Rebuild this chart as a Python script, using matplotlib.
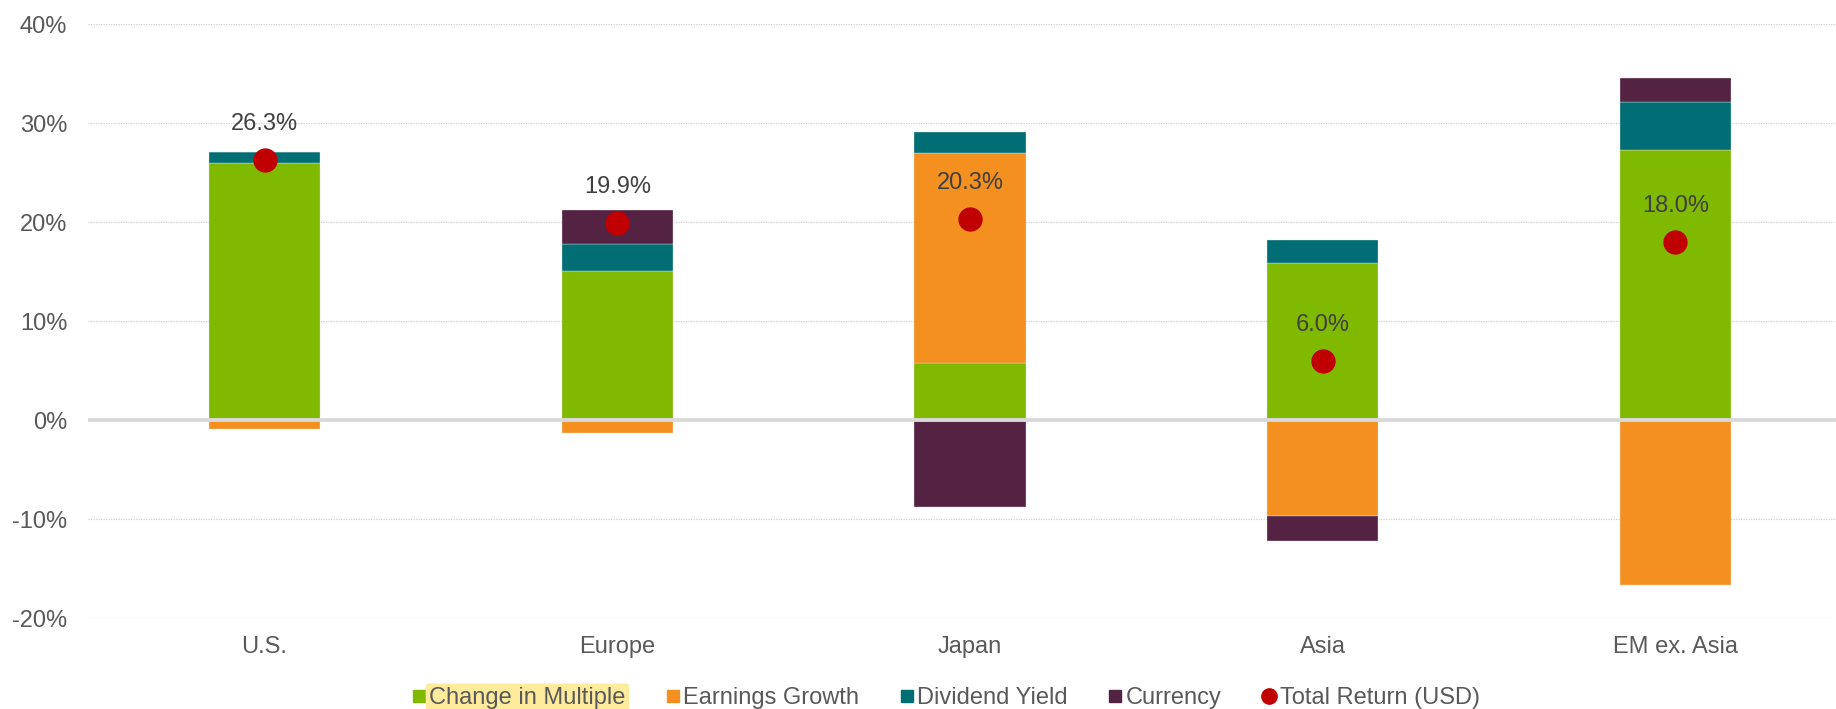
import numpy as np
import matplotlib.pyplot as plt
from matplotlib.lines import Line2D

plt.rcParams['font.family'] = ['Liberation Sans', 'DejaVu Sans']

regions = ["U.S.", "Europe", "Japan", "Asia", "EM ex. Asia"]
change_in_multiple = [26.0, 15.1, 5.8, 15.9, 27.3]
earnings_growth = [-0.9, -1.3, 21.2, -9.7, -16.6]
dividend_yield = [1.1, 2.7, 2.1, 2.3, 4.8]
currency = [0.0, 3.4, -8.8, -2.5, 2.5]
total_return = [26.3, 19.9, 20.3, 6.0, 18.0]

series = [
    ("Change in Multiple", change_in_multiple, "#80BA00"),
    ("Earnings Growth", earnings_growth, "#F39020"),
    ("Dividend Yield", dividend_yield, "#016E75"),
    ("Currency", currency, "#542242"),
]

fig = plt.figure(figsize=(18.36, 7.09), dpi=100)
ax = fig.add_axes([0.048, 0.128, 0.952, 0.838])

x = np.arange(len(regions))
pos_base = np.zeros(len(regions))
neg_base = np.zeros(len(regions))
for name, vals, color in series:
    vals = np.array(vals)
    bottom = np.where(vals >= 0, pos_base, neg_base)
    ax.bar(x, vals, width=0.315, bottom=bottom, color=color, edgecolor="#E8E8E8",
           linewidth=0.25, zorder=2)
    pos_base += np.where(vals >= 0, vals, 0)
    neg_base += np.where(vals < 0, vals, 0)

ax.axhline(0, color="#D9D9D9", linewidth=2.8, zorder=3)
ax.plot(x, total_return, linestyle="none", marker="o", markersize=16.5,
        color="#C00000", zorder=4)
for xi, v in zip(x, total_return):
    ax.annotate(f"{v:.1f}%", (xi, v), xytext=(0, 18), textcoords="offset points",
                ha="center", va="bottom", fontsize=17, color="#404040", zorder=5)

ax.set_xlim(-0.5, 4.455)
ax.set_ylim(-20, 40)
ax.set_yticks(np.arange(-20, 41, 10))
ax.set_yticklabels([f"{t}%" for t in range(-20, 41, 10)])
ax.set_xticks(x)
ax.set_xticklabels(regions)
ax.tick_params(axis="both", length=0, labelsize=17, labelcolor="#595959")
ax.tick_params(axis="y", pad=15)
ax.tick_params(axis="x", pad=12.5)
ax.yaxis.grid(True, color="#D0D0D0", linestyle=(0, (1, 1)), linewidth=0.9, zorder=0)
ax.set_axisbelow(True)
for s in ax.spines.values():
    s.set_visible(False)

handles = [Line2D([], [], linestyle="none", marker="s", markersize=9, color=c)
           for _, _, c in series]
handles.append(Line2D([], [], linestyle="none", marker="o", markersize=11, color="#C00000"))
labels = [n for n, _, _ in series] + ["Total Return (USD)"]
leg = fig.legend(handles, labels, loc="center", bbox_to_anchor=(0.515, 0.0155), ncol=5,
                 frameon=False, fontsize=17, handlelength=0.6, handletextpad=0.15,
                 columnspacing=1.7)
for t in leg.get_texts():
    t.set_color("#595959")
leg.get_texts()[0].set_bbox(dict(boxstyle="round,pad=0.15", facecolor="#FFEB9C",
                                 edgecolor="none"))

fig.savefig("out.png", dpi=100)
